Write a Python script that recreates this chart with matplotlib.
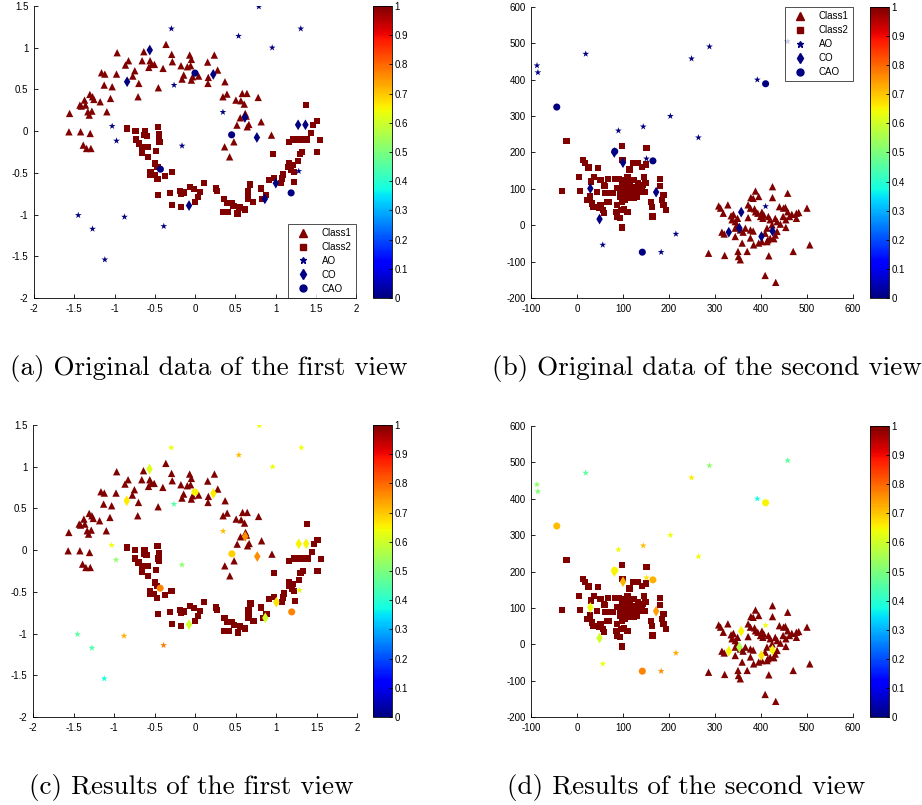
import matplotlib
matplotlib.use("Agg")
import matplotlib.pyplot as plt
import numpy as np
from matplotlib.ticker import FormatStrFormatter, MultipleLocator
from matplotlib.lines import Line2D

plt.rcParams['axes.unicode_minus'] = False
plt.rcParams['font.family'] = 'Liberation Sans'

# ---------------- view 1 (two moons) ----------------
v1_class1 = [(-1.558, 0.212), (-1.430, 0.312), (-1.372, 0.372), (-1.360, 0.312), (-1.413, 0.300),
             (-1.306, 0.440), (-1.273, 0.412), (-1.256, 0.380), (-1.314, 0.192), (-1.331, 0.232),
             (-1.281, 0.240), (-1.178, 0.352), (-1.095, 0.232), (-1.050, 0.392), (-1.161, 0.700),
             (-1.120, 0.684), (-1.128, 0.552), (-1.029, 0.532), (-0.975, 0.684), (-0.967, 0.940),
             (-0.864, 0.792), (-0.826, 0.844), (-0.773, 0.660), (-0.748, 0.724), (-0.698, 0.572),
             (-0.707, 0.412), (-0.657, 0.844), (-0.636, 0.952), (-0.574, 0.764), (-0.558, 0.844),
             (-0.540, 0.800), (-0.504, 0.800), (-0.455, 0.520), (-0.397, 0.752), (-0.360, 1.040),
             (-0.289, 0.920), (-0.281, 0.832), (-0.174, 0.784), (-0.140, 0.672), (-0.161, 0.624),
             (-0.095, 0.772), (-0.066, 0.912), (-0.045, 0.860), (-0.054, 0.784), (-0.045, 0.612),
             (-0.029, 0.652), (0.045, 0.660), (0.157, 0.828), (0.165, 0.644), (0.161, 0.572),
             (0.240, 0.912), (0.281, 0.732), (0.372, 0.592), (0.347, 0.412), (0.397, 0.444),
             (0.508, 0.372), (0.587, 0.452), (0.645, 0.452), (0.570, 0.364), (0.612, 0.324),
             (0.624, 0.212), (0.636, 0.180), (0.562, 0.160), (0.521, 0.072), (0.649, 0.052),
             (0.669, 0.080), (0.785, 0.404), (0.822, 0.112), (0.950, -0.048), (0.483, -0.128),
             (0.368, -0.188), (0.430, -0.308), (-1.566, -0.008), (-1.421, -0.008), (-1.302, -0.028),
             (-1.388, -0.168), (-1.347, -0.208), (-1.293, -0.208)]
v1_class2 = [(-0.843, 0.032), (-0.740, 0.004), (-0.624, 0.004), (-0.632, -0.048), (-0.599, -0.060),
             (-0.736, -0.100), (-0.698, -0.148), (-0.653, -0.188), (-0.583, -0.188), (-0.657, -0.260),
             (-0.483, -0.236), (-0.579, -0.308), (-0.463, 0.052), (-0.446, -0.036), (-0.450, -0.100),
             (-0.442, -0.128), (-0.492, -0.388), (-0.467, -0.428), (-0.554, -0.488), (-0.558, -0.528),
             (-0.504, -0.528), (-0.467, -0.576), (-0.372, -0.536), (-0.289, -0.488), (-0.459, -0.768),
             (-0.310, -0.740), (-0.281, -0.884), (-0.174, -0.908), (-0.186, -0.716), (-0.174, -0.748),
             (-0.132, -0.736), (-0.058, -0.668), (-0.017, -0.692), (0.066, -0.728), (0.037, -0.788),
             (0.004, -0.848), (0.112, -0.620), (0.260, -0.688), (0.273, -0.716), (0.364, -0.816),
             (0.401, -0.860), (0.355, -0.968), (0.413, -0.968), (0.459, -0.864), (0.479, -0.900),
             (0.529, -0.988), (0.554, -0.916), (0.620, -0.940), (0.686, -0.640), (0.661, -0.716),
             (0.661, -0.768), (0.661, -0.808), (0.723, -0.848), (0.818, -0.688), (0.884, -0.768),
             (0.839, -0.812), (0.917, -0.588), (0.979, -0.560), (1.070, -0.620), (1.083, -0.568),
             (1.095, -0.520), (1.157, -0.428), (1.165, -0.388), (1.211, -0.404), (1.194, -0.464),
             (1.227, -0.488), (1.231, -0.608), (0.971, -0.276), (1.165, -0.128), (1.219, -0.100),
             (1.252, -0.100), (1.306, -0.100), (1.347, -0.100), (1.388, -0.100), (1.281, -0.356),
             (1.302, -0.272), (1.331, -0.248), (1.442, -0.020), (1.467, 0.072), (1.512, 0.124),
             (1.554, -0.104), (1.512, -0.248), (1.380, 0.316)]
v1_ao = [(-0.293, 1.228), (-0.260, 0.552), (-0.161, -0.176), (-1.029, 0.060), (-0.975, -0.116),
         (-1.450, -1.008), (-1.273, -1.172), (-1.120, -1.540), (-0.876, -1.028), (-0.388, -1.140),
         (0.347, 0.228), (0.541, 1.140), (0.793, 1.492), (0.959, 1.000), (1.314, 1.228), (1.289, -0.480)]
v1_co = [(-0.843, 0.592), (-0.562, 0.972), (0.227, 0.680), (0.620, 0.164), (0.769, -0.076),
         (1.281, 0.076), (1.372, 0.076), (1.004, -0.624), (0.868, -0.812), (-0.074, -0.892)]
v1_cao = [(0.000, 0.696), (0.455, -0.044), (-0.430, -0.456), (1.194, -0.740)]

# outlier scores found for view 1
v1_ao_score = [0.64, 0.45, 0.52, 0.64, 0.52, 0.46, 0.44, 0.38, 0.72, 0.78,
               0.71, 0.71, 0.64, 0.64, 0.64, 0.63]
v1_co_score = [0.66, 0.62, 0.66, 0.76, 0.76, 0.65, 0.65, 0.67, 0.60, 0.60]
v1_cao_score = [0.65, 0.69, 0.77, 0.77]

# ---------------- view 2 (two blobs) ----------------
v2_class1 = [(425, 106), (388, 94), (378, 76), (383, 74), (395, 79), (425, 76), (458, 88),
             (308, 53), (312, 47), (318, 33), (328, 56), (335, 26), (340, 30), (344, 10), (349, 19),
             (372, 56), (377, 47), (386, 45), (388, 37), (393, 33), (402, 36), (406, 28), (399, 24),
             (372, 21), (404, 19), (416, 24), (440, 51), (449, 47), (453, 49), (458, 37), (467, 30),
             (477, 33), (482, 35), (500, 47), (448, 24), (454, 15), (462, 24), (431, 19), (435, 10),
             (442, 3), (420, 15), (424, 1), (477, 19), (454, -6), (344, -8), (355, -13), (361, -19),
             (366, -8), (377, -13), (383, -16), (413, -8), (409, -22), (435, -17), (431, -27),
             (420, -36), (428, -37), (344, -31), (359, -49), (377, -35), (384, -54), (395, -49),
             (402, -45), (413, -45), (415, -40), (315, -19), (320, -24), (370, -72), (350, -72),
             (351, -86), (355, -95), (286, -77), (321, -83), (417, -84), (470, -72), (506, -54),
             (409, -138), (432, -157), (337, 15), (348, 1)]
v2_class2 = [(-23, 231), (98, 218), (151, 213), (13, 179), (17, 172), (25, 159), (46, 158), (99, 179),
             (121, 172), (133, 172), (150, 167), (141, 160), (114, 153), (-33, 95), (5, 133), (7, 95),
             (31, 120), (37, 133), (51, 124), (58, 110), (68, 127), (83, 127), (91, 127), (100, 124),
             (110, 133), (123, 124), (132, 117), (146, 133), (149, 117), (143, 110), (181, 127),
             (180, 108), (188, 83), (185, 69), (188, 56), (194, 42), (163, 51), (161, 65), (164, 24),
             (98, -6), (60, 108), (77, 88), (62, 88), (43, 92), (22, 69), (29, 79), (33, 60), (36, 51),
             (47, 47), (51, 56), (58, 33), (57, 42), (69, 65), (65, 65), (85, 36), (87, 24), (94, 19),
             (87, 56), (94, 79), (103, 83), (109, 90), (116, 96), (98, 65), (105, 69), (110, 74),
             (120, 79), (127, 83), (96, 42), (103, 44), (110, 37), (122, 90), (134, 92), (141, 97),
             (148, 92), (123, 74), (130, 79), (127, 106), (138, 111), (98, 111), (105, 115),
             (116, 115), (87, 103), (94, 97), (107, 101), (117, 106)]
v2_ao = [(-87, 439), (-85, 420), (19, 471), (90, 260), (144, 271), (203, 300), (249, 458), (264, 241),
         (288, 491), (392, 400), (458, 505), (56, -54), (151, 183), (183, -74), (215, -24), (410, 52)]
v2_co = [(29, 101), (49, 17), (100, 172), (172, 91), (330, -19), (353, -8), (357, 36), (401, -31),
         (425, -16), (81, 200)]
v2_cao = [(-44, 325), (410, 389), (82, 203), (165, 177), (142, -74)]

v2_ao_score = [0.52, 0.50, 0.46, 0.64, 0.71, 0.64, 0.66, 0.64, 0.52, 0.38, 0.46, 0.64, 0.67,
               0.76, 0.73, 0.64]
v2_co_score = [0.64, 0.60, 0.72, 0.74, 0.65, 0.56, 0.65, 0.67, 0.65, 0.66]
v2_cao_score = [0.71, 0.65, 0.65, 0.72, 0.77]

captions = ['(a) Original data of the first view', '(b) Original data of the second view',
            '(c) Results of the first view', '(d) Results of the second view']

W, H = 922, 805
fig = plt.figure(figsize=(W / 100, H / 100), dpi=100)


def px_axes(l, t, r, b):
    return fig.add_axes([l / W, 1 - b / H, (r - l) / W, (b - t) / H])


def panel(box, cbox, sets, xlim, ylim, xstep, ystep, legend_loc=None):
    ax = px_axes(*box)
    for pts, vals, mk, s in sets:
        pts = np.array(pts, dtype=float)
        ax.scatter(pts[:, 0], pts[:, 1], c=vals, cmap='jet', vmin=0, vmax=1,
                   marker=mk, s=s, edgecolors='none')
    ax.set_xlim(*xlim)
    ax.set_ylim(*ylim)
    ax.xaxis.set_major_locator(MultipleLocator(xstep))
    ax.yaxis.set_major_locator(MultipleLocator(ystep))
    ax.xaxis.set_major_formatter(FormatStrFormatter('%g'))
    ax.yaxis.set_major_formatter(FormatStrFormatter('%g'))
    for side in ['top', 'right']:
        ax.spines[side].set_visible(False)
    for side in ['left', 'bottom']:
        ax.spines[side].set_linewidth(0.6)
    ax.tick_params(direction='in', length=3, width=0.6, labelsize=7, pad=4)

    cax = px_axes(*cbox)
    sm = plt.cm.ScalarMappable(cmap='jet', norm=plt.Normalize(0, 1))
    cb = fig.colorbar(sm, cax=cax, ticks=np.arange(0, 1.01, 0.1))
    cb.ax.yaxis.set_major_formatter(FormatStrFormatter('%g'))
    cb.ax.tick_params(direction='in', length=2, width=0.6, labelsize=7, pad=2)
    cb.outline.set_linewidth(0.6)

    if legend_loc is not None:
        red = plt.cm.jet(1.0)
        blue = plt.cm.jet(0.0)
        handles = [Line2D([], [], ls='none', marker='^', color=red, markersize=5.5),
                   Line2D([], [], ls='none', marker='s', color=red, markersize=4.5),
                   Line2D([], [], ls='none', marker='*', color=blue, markersize=5),
                   Line2D([], [], ls='none', marker='d', color=blue, markersize=5.5),
                   Line2D([], [], ls='none', marker='o', color=blue, markersize=5)]
        leg = ax.legend(handles, ['Class1', 'Class2', 'AO', 'CO', 'CAO'], loc=legend_loc,
                        fontsize=7, frameon=True, fancybox=False, borderaxespad=0,
                        handlelength=2.2, handletextpad=0.8, labelspacing=0.4,
                        borderpad=0.45)
        leg.get_frame().set_edgecolor('black')
        leg.get_frame().set_linewidth(0.6)
    return ax


def sets_for(c1, c2, ao, co, cao, ao_v, co_v, cao_v):
    return [(c1, [1.0] * len(c1), '^', 28),
            (c2, [1.0] * len(c2), 's', 20),
            (ao, ao_v, '*', 26),
            (co, co_v, 'd', 30),
            (cao, cao_v, 'o', 26)]


panel((34, 6, 356, 298), (373, 6, 392, 298),
      sets_for(v1_class1, v1_class2, v1_ao, v1_co, v1_cao,
               [0.0] * len(v1_ao), [0.0] * len(v1_co), [0.0] * len(v1_cao)),
      (-2, 2), (-2, 1.5), 0.5, 0.5, legend_loc='lower right')
panel((531, 7, 853, 298), (870, 7, 889, 298),
      sets_for(v2_class1, v2_class2, v2_ao, v2_co, v2_cao,
               [0.0] * len(v2_ao), [0.0] * len(v2_co), [0.0] * len(v2_cao)),
      (-100, 600), (-200, 600), 100, 100, legend_loc='upper right')
panel((33, 425, 357, 717), (373, 425, 392, 717),
      sets_for(v1_class1, v1_class2, v1_ao, v1_co, v1_cao,
               v1_ao_score, v1_co_score, v1_cao_score),
      (-2, 2), (-2, 1.5), 0.5, 0.5)
panel((531, 426, 853, 717), (870, 426, 889, 717),
      sets_for(v2_class1, v2_class2, v2_ao, v2_co, v2_cao,
               v2_ao_score, v2_co_score, v2_cao_score),
      (-100, 600), (-200, 600), 100, 100)

cap_pos = [(209, 368), (707, 368), (191, 787), (686, 787)]
for txt, (x, y) in zip(captions, cap_pos):
    fig.text(x / W, 1 - y / H, txt, ha='center', va='center', fontsize=19.5, family='cmr10')

fig.savefig('out.png', dpi=100)
